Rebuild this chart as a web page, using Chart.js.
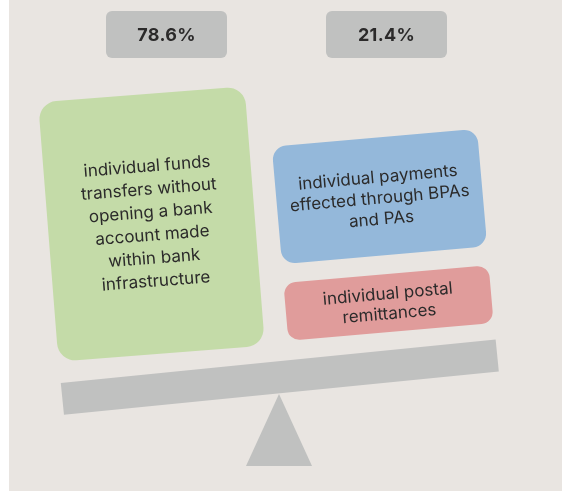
<!DOCTYPE html>
<html>
<head>
<meta charset="utf-8">
<script src="https://cdn.jsdelivr.net/npm/chart.js@4"></script>
<style>
  html { background: linear-gradient(to right, #ffffff 9px, #e9e5e1 9px); overflow: hidden; }
  html, body { margin: 0; padding: 0; width: 100%; height: 100%; }
  body { background: transparent; overflow: hidden; }
  #wrap { width: 562px; height: 491px; }
  canvas { display: block; }
  ::-webkit-scrollbar { display: none; }
</style>
</head>
<body>
<div id="wrap"><canvas id="scale"></canvas></div>
<script>
// data
const shareValues = [78.6, 21.4];
const shareLabels = ['78.6%', '21.4%'];
const categories = [
  ['individual funds', 'transfers without', 'opening a bank', 'account made', 'within bank', 'infrastructure'],
  ['individual payments', 'effected through BPAs', 'and PAs'],
  ['individual postal', 'remittances']
];
const categoryGroup = [0, 1, 1]; // which share each box belongs to

// layout (in canvas units, mapped through the hidden x/y scales)
const pctBoxes = [{ x: 166.5, y: 34.5, w: 121, h: 47 }, { x: 386.5, y: 34.5, w: 121, h: 47 }];
const boxes = [
  { x: 151.5, y: 224, w: 207, h: 260, a: -4.5, r: 18, fill: '#c4dba8', dy: 0, lh: 23 },
  { x: 379.5, y: 196.5, w: 206, h: 118, a: -5, r: 14, fill: '#94b8da', dy: 2, lh: 21 },
  { x: 388.5, y: 303, w: 206, h: 58, a: -5, r: 12, fill: '#e09c9b', dy: 1, lh: 20 }
];
const beam = { x: 279.8, y: 377.2, w: 437, h: 32, a: -5.7 };
const fulcrum = { x: 279, top: 394, base: 466, half: 33 };

const grey = '#c0c1c0';
const ink = '#2b2a2a';

function rotRect(ctx, cx, cy, w, h, deg, r, fill) {
  ctx.save();
  ctx.translate(cx, cy);
  ctx.rotate(deg * Math.PI / 180);
  ctx.beginPath();
  ctx.roundRect(-w / 2, -h / 2, w, h, r);
  ctx.fillStyle = fill;
  ctx.fill();
  ctx.restore();
}

const scenePlugin = {
  id: 'scene',
  beforeDraw(chart) {
    const ctx = chart.ctx;
    const xs = chart.scales.x, ys = chart.scales.y;
    const px = v => xs.getPixelForValue(v), py = v => ys.getPixelForValue(v);
    ctx.save();
    ctx.fillStyle = '#e9e5e1';
    ctx.fillRect(px(9), 0, chart.width, chart.height);

    // share boxes
    shareLabels.forEach((lab, i) => {
      const b = pctBoxes[i];
      ctx.beginPath();
      ctx.roundRect(px(b.x - b.w / 2), py(b.y - b.h / 2), b.w, b.h, 6);
      ctx.fillStyle = grey;
      ctx.fill();
      ctx.fillStyle = ink;
      ctx.font = 'bold 18px Inter, "Liberation Sans", sans-serif';
      ctx.letterSpacing = '0.3px';
      ctx.textAlign = 'center';
      ctx.textBaseline = 'middle';
      ctx.fillText(lab, px(b.x), py(b.y) + 1);
    });
    ctx.letterSpacing = '0px';

    // category boxes
    categories.forEach((lines, i) => {
      const b = boxes[i];
      rotRect(ctx, px(b.x), py(b.y), b.w, b.h, b.a, b.r, b.fill);
      ctx.save();
      ctx.translate(px(b.x), py(b.y));
      ctx.rotate(b.a * Math.PI / 180);
      ctx.fillStyle = ink;
      ctx.font = '17px Inter, "Liberation Sans", sans-serif';
      ctx.textAlign = 'center';
      ctx.textBaseline = 'middle';
      const top = -(lines.length - 1) * b.lh / 2 + b.dy;
      lines.forEach((t, j) => ctx.fillText(t, 0, top + j * b.lh));
      ctx.restore();
    });

    // beam and fulcrum
    rotRect(ctx, px(beam.x), py(beam.y), beam.w, beam.h, beam.a, 0, grey);
    ctx.beginPath();
    ctx.moveTo(px(fulcrum.x), py(fulcrum.top));
    ctx.lineTo(px(fulcrum.x + fulcrum.half), py(fulcrum.base));
    ctx.lineTo(px(fulcrum.x - fulcrum.half), py(fulcrum.base));
    ctx.closePath();
    ctx.fillStyle = grey;
    ctx.fill();
    ctx.restore();
  }
};

new Chart(document.getElementById('scale'), {
  type: 'scatter',
  data: {
    labels: shareLabels,
    datasets: [{ label: 'share', data: shareValues.map((v, i) => ({ x: pctBoxes[i].x, y: pctBoxes[i].y })), pointRadius: 0 }]
  },
  options: {
    responsive: true,
    maintainAspectRatio: false,
    animation: false,
    layout: { padding: 0 },
    plugins: { legend: { display: false }, tooltip: { enabled: false } },
    scales: {
      x: { type: 'linear', min: 0, max: 562, display: false },
      y: { type: 'linear', min: 0, max: 491, reverse: true, display: false }
    }
  },
  plugins: [scenePlugin]
});
</script>
</body>
</html>
